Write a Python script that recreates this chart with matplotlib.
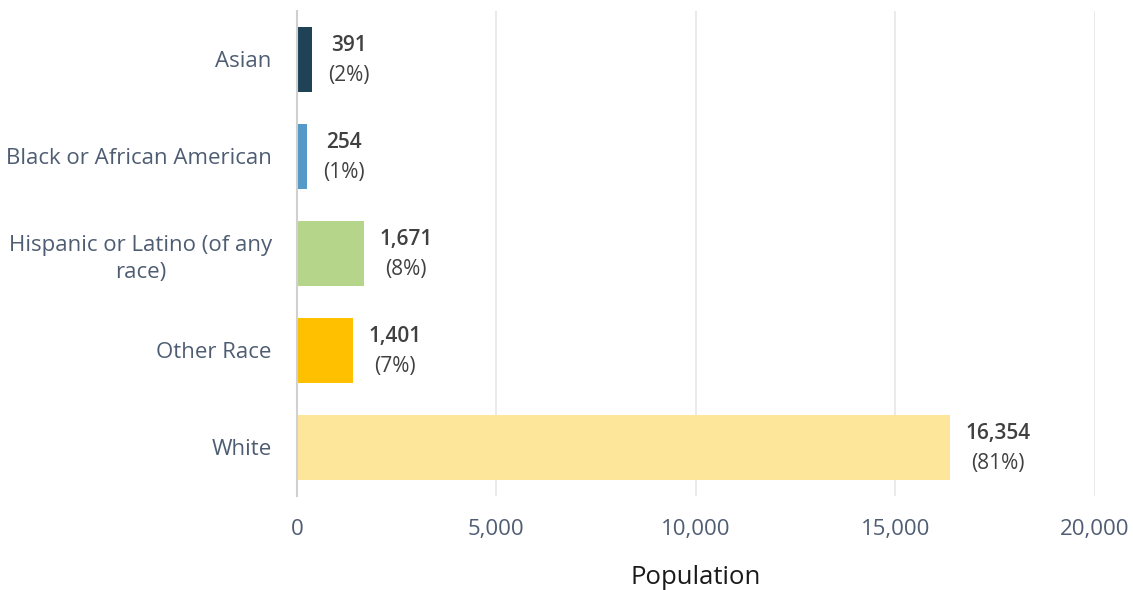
import matplotlib
matplotlib.use('Agg')
import matplotlib.pyplot as plt
from matplotlib.ticker import FuncFormatter

categories = ['Asian', 'Black or African American', 'Hispanic or Latino (of any\nrace)', 'Other Race', 'White']
population = [391, 254, 1671, 1401, 16354]
percents = [2, 1, 8, 7, 81]
colors = ['#1f4257', '#5499c7', '#b5d58b', '#ffc000', '#fde59a']

plt.rcParams['font.family'] = ['Open Sans', 'DejaVu Sans']

fig = plt.figure(figsize=(11.33, 5.9), dpi=100)
ax = fig.add_axes([0.262, 0.160, 0.7045, 0.822])

y_pos = list(range(len(categories)))
ax.barh(y_pos, population, height=0.67, color=colors, zorder=3)
ax.set_ylim(len(categories) - 0.5, -0.5)
ax.set_xlim(0, 20000)
ax.set_xticks([0, 5000, 10000, 15000, 20000])
ax.xaxis.set_major_formatter(FuncFormatter(lambda v, p: f'{int(v):,}'))
ax.set_yticks(y_pos)
ax.set_yticklabels(categories, multialignment='center', linespacing=1.4)

ax.tick_params(axis='both', length=0, labelsize=16, colors='#4f5d73')
ax.tick_params(axis='x', pad=17)
ax.tick_params(axis='y', pad=18)
ax.grid(axis='x', color='#e6e6e6', linewidth=1.2, zorder=0)
for s in ['top', 'right', 'bottom']:
    ax.spines[s].set_visible(False)
ax.spines['left'].set_color('#d0d0d0')
ax.spines['left'].set_linewidth(1.5)
ax.spines['left'].set_zorder(4)

ax.set_xlabel('Population', fontsize=18.5, color='#1a1a1a', labelpad=18)

# value labels: number (semibold) over percent, centred as a block
renderer = fig.canvas.get_renderer()
for i, (v, p) in enumerate(zip(population, percents)):
    t1 = ax.annotate(f'{v:,}', (v, i), xytext=(0, 0), textcoords='offset pixels',
                     ha='center', va='center', fontsize=15, fontweight='semibold', color='#404040')
    t2 = ax.annotate(f'({p}%)', (v, i), xytext=(0, 0), textcoords='offset pixels',
                     ha='center', va='center', fontsize=15, color='#404040')
    w = max(t1.get_window_extent(renderer).width, t2.get_window_extent(renderer).width)
    t1.xyann = (16 + w / 2, 14)
    t2.xyann = (16 + w / 2, -16)

fig.savefig('out.png', dpi=100)
